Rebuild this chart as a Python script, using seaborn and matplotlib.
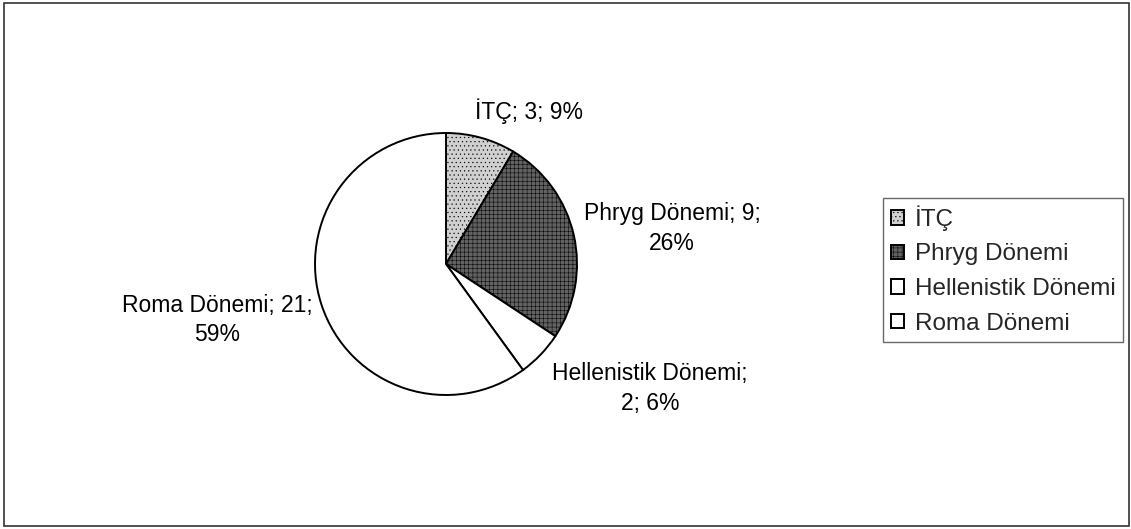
import matplotlib
matplotlib.use("Agg")
import matplotlib.pyplot as plt
import seaborn as sns
from matplotlib.patches import Rectangle

# Dönemlere göre buluntu sayıları
donemler = ["İTÇ", "Phryg Dönemi", "Hellenistik Dönemi", "Roma Dönemi"]
sayilar = [3, 9, 2, 21]
yuzdeler = [9, 26, 6, 59]

renkler = ["#d0d0d0", "#626262", "#ffffff", "#ffffff"]
taramalar = ["....", "++++", None, None]

sns.set_theme(style="white")
plt.rcParams["font.family"] = ["Liberation Sans", "DejaVu Sans"]
plt.rcParams["hatch.linewidth"] = 0.35

fig = plt.figure(figsize=(11.31, 5.29), dpi=100)
ax = fig.add_axes([0, 0, 1, 1])

wedges, _ = ax.pie(sayilar, startangle=90, counterclock=False, colors=renkler,
                   wedgeprops=dict(edgecolor="black", linewidth=1.4))
for w, h in zip(wedges, taramalar):
    if h:
        w.set_hatch(h)

# veri etiketleri (Excel tarzı yerleşim)
etiketler = [
    (f"{donemler[0]}; {sayilar[0]}; {yuzdeler[0]}%", (0.22, 1.17), "left"),
    (f"{donemler[1]}; {sayilar[1]};\n{yuzdeler[1]}%", (1.05, 0.27), "left"),
    (f"{donemler[2]};\n{sayilar[2]}; {yuzdeler[2]}%", (0.81, -0.95), "left"),
    (f"{donemler[3]}; {sayilar[3]};\n{yuzdeler[3]}%", (-1.02, -0.43), "right"),
]
for txt, (x, y), ha in etiketler:
    ax.text(x, y, txt, ha=ha, va="center", multialignment="center",
            fontsize=16.5, color="black", linespacing=1.35)

# pasta merkezi (446, 264) px, yarıçap 131 px
r = 131
ax.set_xlim(-446 / r, (1131 - 446) / r)
ax.set_ylim(-(529 - 264) / r, 264 / r)
ax.set_axis_off()

leg = fig.legend(wedges, donemler, loc="lower right",
                 bbox_to_anchor=(1123 / 1131, 1 - 342 / 529),
                 fontsize=17.5, frameon=True, fancybox=False, shadow=False,
                 handlelength=0.55, handleheight=0.55, handletextpad=0.45,
                 labelspacing=0.52, borderpad=0.3, borderaxespad=0)
leg.get_frame().set_edgecolor("#444444")
leg.get_frame().set_linewidth(1.0)

# dış çerçeve
fig.patches.append(Rectangle((4 / 1131, 3 / 529), 1125 / 1131, 523 / 529,
                             transform=fig.transFigure, fill=False,
                             edgecolor="#333333", linewidth=1.2))

fig.savefig("out.png", dpi=100, facecolor="white")
